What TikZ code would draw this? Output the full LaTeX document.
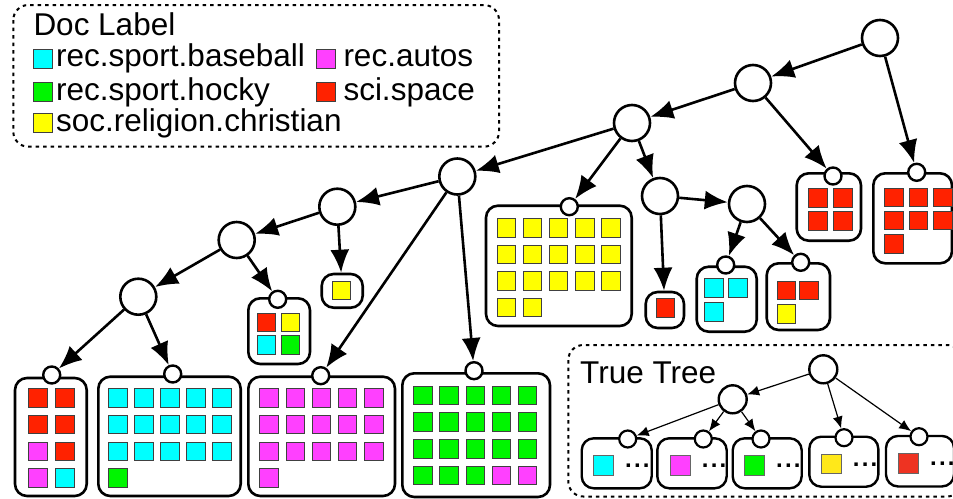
\documentclass[tikz,border=0pt]{standalone}
\usepackage{fontspec}
\setmainfont{Liberation Sans}
\usetikzlibrary{arrows.meta}
\definecolor{cy}{HTML}{00FFFF}
\definecolor{gr}{HTML}{00F500}
\definecolor{mg}{HTML}{FF40FF}
\definecolor{rd}{HTML}{FF2200}
\definecolor{ye}{HTML}{FFFF00}
\definecolor{ye2}{HTML}{FFE81A}
\definecolor{rd2}{HTML}{EE3322}
\newcommand\sqgrid[7]{%
  \foreach \c [count=\i from 0] in {#7} {%
    \pgfmathtruncatemacro\sqcol{mod(\i,#6)}%
    \pgfmathtruncatemacro\sqrow{div(\i,#6)}%
    \node[sq,fill=\c] (#1-\i) at ({#2+#4*\sqcol},{#3+#5*\sqrow}) {};
  }}
\begin{document}
\begin{tikzpicture}[x=1pt,y=-1pt,
  inner/.style={circle,draw,line width=2.6pt,fill=white,minimum size=36pt,inner sep=0pt},
  port/.style={circle,draw,line width=2.4pt,fill=white,minimum size=17pt,inner sep=0pt},
  leaf/.style={draw,rounded corners=12pt,line width=2.6pt,inner sep=0pt},
  sq/.style={draw=black!75,line width=0.7pt,minimum size=18.5pt,inner sep=0pt,anchor=north west},
  edge/.style={line width=2.6pt,-{Latex[length=23pt,width=19pt]}},
  tinner/.style={circle,draw,line width=2.4pt,fill=white,minimum size=28pt,inner sep=0pt},
  tport/.style={circle,draw,line width=2.2pt,fill=white,minimum size=17pt,inner sep=0pt},
  tleaf/.style={draw,rounded corners=12pt,line width=2.4pt,inner sep=0pt},
  tedge/.style={line width=1.2pt,-{Latex[length=12pt,width=10pt]}},
  tsq/.style={draw=black!60,line width=0.6pt,minimum size=19.5pt,inner sep=0pt,anchor=north west},
  dots/.style={font=\fontsize{24}{28}\selectfont\bfseries,anchor=base west,inner sep=0pt},
  lab/.style={font=\fontsize{31.5}{36}\selectfont,anchor=base west,inner sep=0pt},
  lsq/.style={draw=black!75,line width=0.7pt,minimum size=19pt,inner sep=0pt,anchor=north west},
  dashbox/.style={draw,line width=2pt,dash pattern=on 3.5pt off 4pt,rounded corners=15pt}]
\useasboundingbox (0,0) rectangle (953,498);

% ---------- legend ----------
\draw[dashbox] (13.3,5) rectangle (499,146.7);
\node[lab] (doclabel) at (33.3,35) {Doc Label};
\node[lsq,fill=cy] (l1) at (33.3,49.3) {};
\node[lab] (t1) at (56,66.7) {rec.sport.baseball};
\node[lsq,fill=gr] (l2) at (33.3,81.7) {};
\node[lab] (t2) at (56,100) {rec.sport.hocky};
\node[lsq,fill=ye] (l3) at (33.3,113.3) {};
\node[lab] (t3) at (56,131.5) {soc.religion.christian};
\node[lsq,fill=mg] (l4) at (316,49.3) {};
\node[lab] (t4) at (343.3,66.7) {rec.autos};
\node[lsq,fill=rd] (l5) at (316,81.7) {};
\node[lab] (t5) at (343.3,100) {sci.space};

% ---------- leaf boxes ----------
\node[leaf,minimum width=71.7pt,minimum height=118pt] (box1) at (50.85,437) {};
\node[leaf,minimum width=142.4pt,minimum height=119.3pt] (box2) at (169.5,436.35) {};
\node[leaf,minimum width=146.7pt,minimum height=119.3pt] (box3) at (321.65,436.35) {};
\node[leaf,minimum width=147.7pt,minimum height=123.7pt] (box4) at (476.15,435.15) {};
\node[leaf,minimum width=61.7pt,minimum height=65.7pt] (boxmix) at (279.15,331.15) {};
\node[leaf,minimum width=41pt,minimum height=33.7pt] (boxy1) at (342.2,290.85) {};
\node[leaf,minimum width=145.7pt,minimum height=120.3pt] (boxyel) at (558.85,265.85) {};
\node[leaf,minimum width=38.3pt,minimum height=36pt] (boxr1) at (664.85,310) {};
\node[leaf,minimum width=60pt,minimum height=65pt] (boxcy) at (726.7,299.2) {};
\node[leaf,minimum width=63.3pt,minimum height=66.7pt] (boxrry) at (798.35,296.65) {};
\node[leaf,minimum width=64.3pt,minimum height=67.4pt] (boxr4) at (828.85,207) {};
\node[leaf,minimum width=78.7pt,minimum height=90pt] (boxr7) at (912.65,218.3) {};

% squares
\sqgrid{q1}{28.3}{388.3}{26.7}{26.67}{2}{rd,rd,rd,rd,mg,rd,mg,cy}
\sqgrid{q2}{108.3}{388.3}{26}{26.67}{5}{cy,cy,cy,cy,cy,cy,cy,cy,cy,cy,cy,cy,cy,cy,cy,gr}
\sqgrid{q3}{259.3}{388.3}{26.2}{26.67}{5}{mg,mg,mg,mg,mg,mg,mg,mg,mg,mg,mg,mg,mg,mg,mg,mg}
\sqgrid{q4}{413.3}{385.7}{26.1}{26.67}{5}{gr,gr,gr,gr,gr,gr,gr,gr,gr,gr,gr,gr,gr,gr,gr,gr,gr,gr,mg,mg}
\sqgrid{qm}{256.7}{312.7}{24}{22.7}{2}{rd,ye,cy,gr}
\sqgrid{qy1}{331.7}{280.7}{0}{0}{1}{ye}
\sqgrid{qy}{496.7}{218.3}{26.1}{26.5}{5}{ye,ye,ye,ye,ye,ye,ye,ye,ye,ye,ye,ye,ye,ye,ye,ye,ye}
\sqgrid{qr1}{655.7}{298.3}{0}{0}{1}{rd}
\sqgrid{qc}{704.3}{278.3}{24}{24}{2}{cy,cy,cy}
\sqgrid{qrry}{776.7}{280.7}{22.6}{23.3}{2}{rd,rd,ye}
\sqgrid{qr4}{808.3}{188.3}{25}{22.7}{2}{rd,rd,rd,rd}
\sqgrid{qr7}{884}{187.7}{24.7}{23.2}{3}{rd,rd,rd,rd,rd,rd,rd}

% ports
\node[port] (p1) at (51.7,375) {};
\node[port] (p2) at (172.7,374) {};
\node[port] (p3) at (320.7,375.7) {};
\node[port] (p4) at (474,370.7) {};
\node[port] (pmix) at (277.7,299.3) {};
\node[port] (pyel) at (569.3,206.7) {};
\node[port] (pcy) at (725.7,265) {};
\node[port] (prry) at (800.7,262.3) {};
\node[port] (pr4) at (833,176) {};
\node[port] (pr7) at (916.7,172.3) {};

% inner nodes
\node[inner] (R) at (880,38) {};
\node[inner] (A) at (753,83) {};
\node[inner] (B) at (632,123) {};
\node[inner] (C) at (660,196) {};
\node[inner] (D) at (747,204) {};
\node[inner] (E) at (457.3,176.5) {};
\node[inner] (F) at (337.3,206.7) {};
\node[inner] (G) at (236.7,240) {};
\node[inner] (H) at (138.3,296.7) {};

% edges
\draw[edge] (R) -- (A);
\draw[edge] (R) -- (pr7);
\draw[edge] (A) -- (B);
\draw[edge] (A) -- (pr4);
\draw[edge] (B) -- (E);
\draw[edge] (B) -- (pyel);
\draw[edge] (B) -- (C);
\draw[edge] (C) -- (D);
\draw[edge] (C) -- (boxr1);
\draw[edge] (D) -- (pcy);
\draw[edge] (D) -- (prry);
\draw[edge] (E) -- (F);
\draw[edge] (E) -- (p3);
\draw[edge] (E) -- (p4);
\draw[edge] (F) -- (G);
\draw[edge] (F) -- (boxy1);
\draw[edge] (G) -- (H);
\draw[edge] (G) -- (pmix);
\draw[edge] (H) -- (p1);
\draw[edge] (H) -- (p2);

% ---------- true tree ----------
\draw[dashbox] (568.3,345) rectangle (962,496.5);
\node[lab] (truetree) at (580,383.3) {True Tree};
\node[tleaf,minimum width=70pt,minimum height=50pt] (tb1) at (616.7,463.3) {};
\node[tleaf,minimum width=69.4pt,minimum height=50pt] (tb2) at (692,463.3) {};
\node[tleaf,minimum width=69pt,minimum height=50pt] (tb3) at (767.2,463.3) {};
\node[tleaf,minimum width=69pt,minimum height=50pt] (tb4) at (843.8,461.7) {};
\node[tleaf,minimum width=68pt,minimum height=50.5pt] (tb5) at (920,461.2) {};
\node[tsq,fill=cy] (ts1) at (593.3,455) {};
\node[tsq,fill=mg] (ts2) at (670,455) {};
\node[tsq,fill=gr] (ts3) at (744.3,455) {};
\node[tsq,fill=ye2] (ts4) at (821,453.5) {};
\node[tsq,fill=rd2] (ts5) at (898.3,453) {};
\node[dots] (td1) at (625,467.5) {.\hspace{2.2pt}.\hspace{2.2pt}.};
\node[dots] (td2) at (701.7,467.5) {.\hspace{2.2pt}.\hspace{2.2pt}.};
\node[dots] (td3) at (776,467.5) {.\hspace{2.2pt}.\hspace{2.2pt}.};
\node[dots] (td4) at (852.7,466) {.\hspace{2.2pt}.\hspace{2.2pt}.};
\node[dots] (td5) at (930,465.5) {.\hspace{2.2pt}.\hspace{2.2pt}.};
\node[tport] (tp1) at (627.7,439) {};
\node[tport] (tp2) at (703.3,439) {};
\node[tport] (tp3) at (761,439) {};
\node[tport] (tp4) at (844,437.7) {};
\node[tport] (tp5) at (919,436.7) {};
\node[tinner] (TR) at (823.3,369.3) {};
\node[tinner] (TM) at (732.7,399.3) {};
\draw[tedge] (TR) -- (TM);
\draw[tedge] (TR) -- (tp4);
\draw[tedge] (TR) -- (tp5);
\draw[tedge] (TM) -- (tp1);
\draw[tedge] (TM) -- (tp2);
\draw[tedge] (TM) -- (tp3);
\end{tikzpicture}
\end{document}
